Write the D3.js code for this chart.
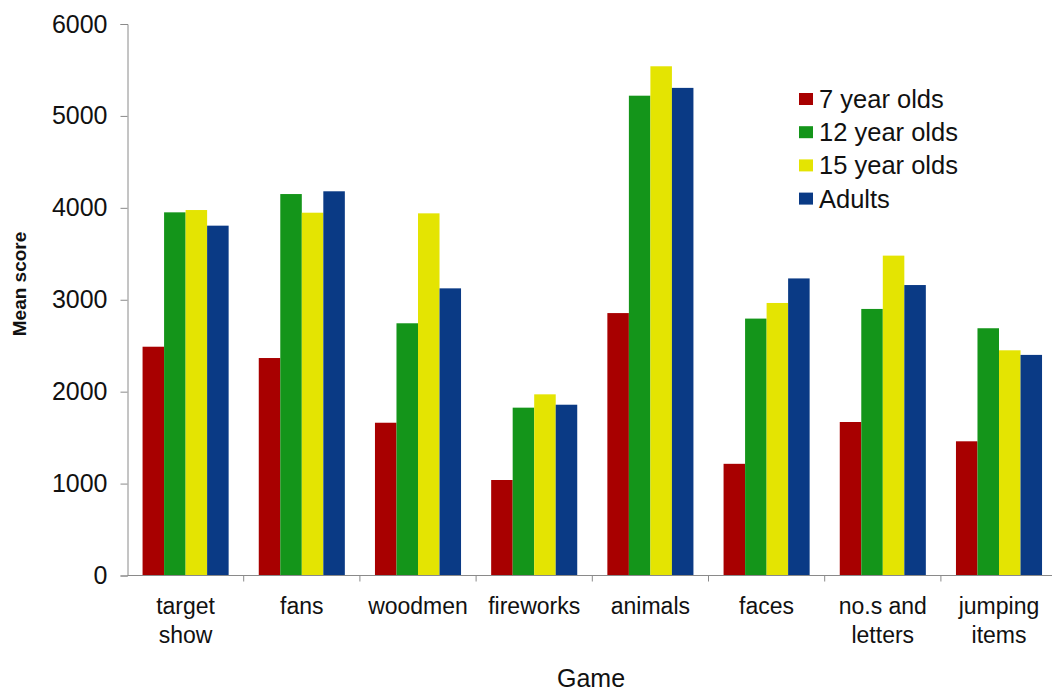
<!DOCTYPE html>
<html>
<head>
<meta charset="utf-8">
<script src="https://cdn.jsdelivr.net/npm/d3@7"></script>
<style>
  html, body { margin: 0; padding: 0; background: #fff; }
  svg { display: block; font-family: "Liberation Sans", Arial, sans-serif; }
</style>
</head>
<body>
<svg id="chart" width="1052" height="691"></svg>
<script>
// Games (x categories), with line breaks for the tick labels
const games = ["target show", "fans", "woodmen", "fireworks", "animals", "faces", "no.s and letters", "jumping items"];
const gameLabels = [["target", "show"], ["fans"], ["woodmen"], ["fireworks"], ["animals"], ["faces"], ["no.s and", "letters"], ["jumping", "items"]];

// Age groups and their mean scores per game
const groups = ["7 year olds", "12 year olds", "15 year olds", "Adults"];
const age7 = [2489, 2366, 1662, 1039, 2855, 1215, 1670, 1460];
const age12 = [3951, 4150, 2744, 1826, 5220, 2795, 2900, 2690];
const age15 = [3976, 3947, 3940, 1971, 5540, 2965, 3480, 2450];
const adults = [3806, 4180, 3124, 1858, 5305, 3232, 3160, 2400];
const yTicks = [0, 1000, 2000, 3000, 4000, 5000, 6000];

const colors = ["#a80000", "#14951a", "#e4e402", "#0a3a85"];
const seriesValues = [age7, age12, age15, adults];

const svg = d3.select("#chart");
const step = 116.2;
const left = 127.5;

const x0 = d3.scaleBand().domain(games).range([left, left + step * games.length]).paddingInner(0).paddingOuter(0);
const x1 = d3.scaleBand().domain(groups).range([0, x0.bandwidth()]).paddingInner(0).paddingOuter(0.7);
const y = d3.scaleLinear().domain([0, 6000]).range([575.5, 24]);
const color = d3.scaleOrdinal().domain(groups).range(colors);

// Bars
const rows = games.map((g, i) => ({ game: g, values: groups.map((s, k) => ({ group: s, value: seriesValues[k][i] })) }));
const gGroups = svg.append("g").selectAll("g").data(rows).join("g")
  .attr("transform", d => `translate(${x0(d.game)},0)`);
gGroups.selectAll("rect").data(d => d.values).join("rect")
  .attr("x", d => x1(d.group))
  .attr("y", d => y(d.value))
  .attr("width", x1.bandwidth())
  .attr("height", d => y(0) - y(d.value))
  .attr("fill", d => color(d.group));

// Y axis
const yAxis = svg.append("g").attr("transform", `translate(${left},0)`)
  .call(d3.axisLeft(y).tickValues(yTicks).tickSize(7).tickPadding(13).tickFormat(d3.format("d")));
yAxis.select(".domain").attr("stroke", "#8a8a8a");
yAxis.selectAll(".tick line").attr("stroke", "#8a8a8a");
yAxis.selectAll(".tick text").attr("font-size", 25).attr("fill", "#111")
  .attr("font-family", "Liberation Sans, Arial, sans-serif");

// X axis: baseline with ticks between categories
const xAxisG = svg.append("g");
xAxisG.append("line").attr("x1", left).attr("x2", 1052).attr("y1", y(0)).attr("y2", y(0)).attr("stroke", "#8a8a8a");
xAxisG.selectAll("line.tk").data(games.slice(1)).join("line").attr("class", "tk")
  .attr("x1", d => x0(d)).attr("x2", d => x0(d))
  .attr("y1", y(0)).attr("y2", y(0) + 6).attr("stroke", "#8a8a8a");

// Category labels
const lab = svg.append("g").selectAll("text").data(games).join("text")
  .attr("x", d => x0(d) + x0.bandwidth() / 2)
  .attr("y", 614)
  .attr("text-anchor", "middle")
  .attr("font-size", 23)
  .attr("fill", "#111");
lab.each(function (d, i) {
  const t = d3.select(this);
  gameLabels[i].forEach((line, j) => {
    t.append("tspan").attr("x", x0(d) + x0.bandwidth() / 2).attr("dy", j === 0 ? 0 : 29).text(line);
  });
});

// Axis titles
svg.append("text").attr("x", 591).attr("y", 687).attr("text-anchor", "middle")
  .attr("font-size", 25).attr("fill", "#111").text("Game");
svg.append("text").attr("transform", "translate(26,284) rotate(-90)").attr("text-anchor", "middle")
  .attr("font-size", 19).attr("font-weight", "bold").attr("fill", "#111").text("Mean score");

// Legend
const legend = svg.append("g").selectAll("g").data(groups).join("g")
  .attr("transform", (d, i) => `translate(799,${99 + i * 33.2})`);
legend.append("rect").attr("x", 0).attr("y", -6).attr("width", 14).attr("height", 12).attr("fill", d => color(d));
legend.append("text").attr("x", 20).attr("y", 9).attr("font-size", 25.5).attr("fill", "#111").text(d => d);
</script>
</body>
</html>
